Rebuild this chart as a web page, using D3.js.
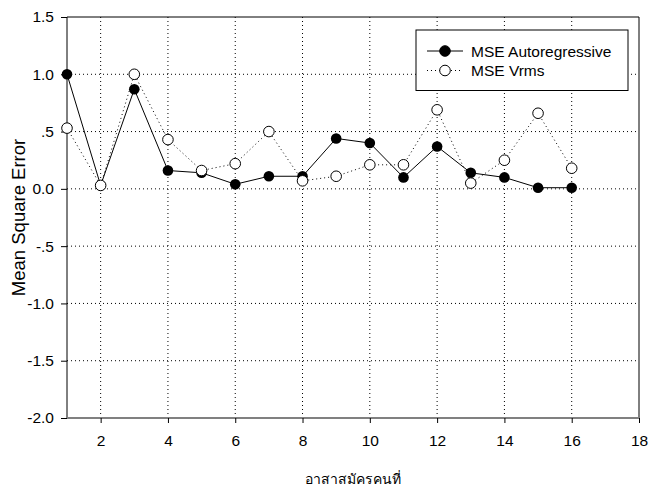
<!DOCTYPE html>
<html>
<head>
<meta charset="utf-8">
<script src="https://cdn.jsdelivr.net/npm/d3@7"></script>
<style>
  body { margin: 0; background: #fff; }
  svg { display: block; }
</style>
</head>
<body>
<svg id="chart" width="649" height="487"></svg>
<script>
// volunteers 1..16
const subjects = [1, 2, 3, 4, 5, 6, 7, 8, 9, 10, 11, 12, 13, 14, 15, 16];
const mseAR   = [1.00, 0.03, 0.87, 0.16, 0.14, 0.04, 0.11, 0.11, 0.44, 0.40, 0.10, 0.37, 0.14, 0.10, 0.01, 0.01];
const mseVrms = [0.53, 0.03, 1.00, 0.43, 0.16, 0.22, 0.50, 0.07, 0.11, 0.21, 0.21, 0.69, 0.05, 0.25, 0.66, 0.18];
const xTicks = [2, 4, 6, 8, 10, 12, 14, 16, 18];
const yTicks = [-2.0, -1.5, -1.0, -0.5, 0.0, 0.5, 1.0, 1.5];
const yTickLabels = ["-2.0", "-1.5", "-1.0", "-.5", "0.0", ".5", "1.0", "1.5"];

const svg = d3.select("#chart");
const font = "'Liberation Sans', Arial, sans-serif";
const pL = 67, pR = 639, pT = 17, pB = 418;

const x = d3.scaleLinear().domain([1, 18]).range([pL, pR]);
const y = d3.scaleLinear().domain([-2, 1.5]).range([pB, pT]);

// dotted grid
svg.append("g").selectAll("line")
  .data(xTicks.filter(d => d < 18))
  .enter().append("line")
    .attr("x1", d => x(d)).attr("x2", d => x(d))
    .attr("y1", pT).attr("y2", pB)
    .attr("stroke", "#000").attr("stroke-width", 1).attr("stroke-dasharray", "1,3");
svg.append("g").selectAll("line")
  .data(yTicks.filter(d => d > -2 && d < 1.5))
  .enter().append("line")
    .attr("x1", pL).attr("x2", pR)
    .attr("y1", d => y(d)).attr("y2", d => y(d))
    .attr("stroke", "#000").attr("stroke-width", 1).attr("stroke-dasharray", "1,3");

// frame: top + right black
svg.append("line").attr("x1", pL).attr("x2", pR).attr("y1", pT).attr("y2", pT)
  .attr("stroke", "#000").attr("stroke-width", 1);
svg.append("line").attr("x1", pR).attr("x2", pR).attr("y1", pT).attr("y2", pB)
  .attr("stroke", "#000").attr("stroke-width", 1);

// y axis
const yAxis = d3.axisLeft(y).tickValues(yTicks)
  .tickFormat((d, i) => yTickLabels[i]).tickSize(6).tickPadding(7);
const gy = svg.append("g").attr("transform", `translate(${pL},0)`).call(yAxis);
gy.select(".domain").attr("stroke", "#000").attr("d", `M0,${pT}V${pB}`);
gy.selectAll(".tick line").attr("stroke", "#000");
gy.selectAll("text").attr("font-family", font).attr("font-size", 15.5).attr("fill", "#000");

// x axis (grey bottom line)
const xAxis = d3.axisBottom(x).tickValues(xTicks).tickSize(5).tickPadding(12);
const gx = svg.append("g").attr("transform", `translate(0,${pB})`).call(xAxis);
gx.select(".domain").attr("stroke", "#808080").attr("stroke-width", 2).attr("d", `M${pL},0H${pR}`);
gx.selectAll(".tick line").attr("stroke", "#000");
gx.selectAll("text").attr("font-family", font).attr("font-size", 15.5).attr("fill", "#000");

// axis titles
svg.append("text")
  .attr("transform", `translate(25,${(pT + pB) / 2}) rotate(-90)`)
  .attr("text-anchor", "middle")
  .attr("font-family", font).attr("font-size", 18.5)
  .text("Mean Square Error");
svg.append("text")
  .attr("x", 353).attr("y", 484)
  .attr("text-anchor", "middle")
  .attr("font-family", "'DejaVu Sans Condensed', sans-serif").attr("font-size", 14)
  .text("อาสาสมัครคนที่");

const line = d3.line().x((d, i) => x(subjects[i])).y(d => y(d));

// Vrms (dotted, open)
svg.append("path").datum(mseVrms).attr("d", line)
  .attr("fill", "none").attr("stroke", "#000").attr("stroke-width", 1).attr("stroke-dasharray", "1,3");
// Autoregressive (solid, filled)
svg.append("path").datum(mseAR).attr("d", line)
  .attr("fill", "none").attr("stroke", "#000").attr("stroke-width", 1);

svg.append("g").selectAll("circle")
  .data(mseAR).enter().append("circle")
    .attr("cx", (d, i) => x(subjects[i])).attr("cy", d => y(d)).attr("r", 5.3)
    .attr("fill", "#000");
svg.append("g").selectAll("circle")
  .data(mseVrms).enter().append("circle")
    .attr("cx", (d, i) => x(subjects[i])).attr("cy", d => y(d)).attr("r", 5.3)
    .attr("fill", "#fff").attr("stroke", "#000").attr("stroke-width", 1);

// legend
const lg = svg.append("g");
lg.append("rect").attr("x", 416).attr("y", 30).attr("width", 212).attr("height", 60.5)
  .attr("fill", "#fff").attr("stroke", "#000").attr("stroke-width", 1);
const legendItems = [
  { label: "MSE Autoregressive", dash: null, fill: "#000" },
  { label: "MSE Vrms", dash: "1,3", fill: "#fff" }
];
legendItems.forEach((it, i) => {
  const ly = 51 + i * 19.5;
  lg.append("line").attr("x1", 427).attr("x2", 463).attr("y1", ly).attr("y2", ly)
    .attr("stroke", "#000").attr("stroke-width", 1).attr("stroke-dasharray", it.dash);
  lg.append("circle").attr("cx", 445).attr("cy", ly).attr("r", 5.3)
    .attr("fill", it.fill).attr("stroke", "#000").attr("stroke-width", 1);
  lg.append("text").attr("x", 471).attr("y", ly + 5.5)
    .attr("font-family", font).attr("font-size", 15.5).text(it.label);
});
</script>
</body>
</html>
